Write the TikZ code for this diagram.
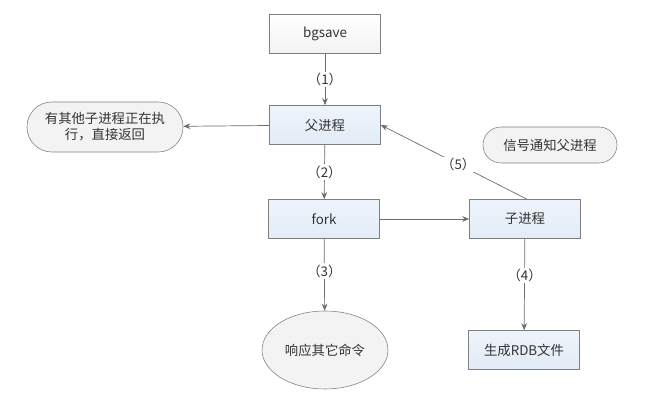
\documentclass[tikz,border=0pt]{standalone}
\usepackage{fontspec}
\setmainfont{Noto Sans CJK SC}
\usepackage{tikz}
\usetikzlibrary{arrows.meta,shapes.geometric}
\definecolor{boxline}{HTML}{7F7F7F}
\definecolor{boxblue}{HTML}{E2ECF7}
\definecolor{boxgray}{HTML}{F3F3F3}
\definecolor{txtgray}{HTML}{333333}
\tikzset{
    every node/.style={text=txtgray, font=\fontsize{9.5}{11.5}\selectfont},
    procbox/.style={draw=boxline, rectangle, minimum width=2.775cm, minimum height=0.975cm, inner sep=0pt},
    roundbox/.style={draw=boxline, rectangle, rounded corners=0.45cm, fill=boxgray, inner sep=0pt},
    flow/.style={draw=boxline!85!black, line width=0.5pt, -{Stealth[length=5pt,width=4pt]}},
    steplabel/.style={fill=white, inner sep=1pt}
}

\begin{document}
\begin{tikzpicture}
    \useasboundingbox (0,0) rectangle (16.125,10.225);

    % Boxes
    \node[procbox, top color=white, bottom color=boxgray] (bgsave) at (8.125,9.375) {bgsave};
    \node[procbox, top color=boxblue!60, bottom color=boxblue] (parent) at (8.125,7.1) {父进程};
    \node[procbox, top color=boxblue!60, bottom color=boxblue] (fork) at (8.1,4.75) {fork};
    \node[procbox, top color=boxblue!60, bottom color=boxblue] (child) at (13.125,4.75) {子进程};
    \node[procbox, top color=boxblue!60, bottom color=boxblue] (rdb) at (13.1,1.475) {生成RDB文件};

    % Ellipse and rounded nodes
    \node[ellipse, draw=boxline, fill=boxgray, minimum width=3.15cm, minimum height=1.95cm, inner sep=0pt] (reply) at (8.125,1.475) {响应其它命令};
    \node[roundbox, minimum width=3.9cm, minimum height=1.25cm, align=center, rounded corners=0.62cm] (busy) at (2.625,7.05) {有其他子进程正在执\\行，直接返回};
    \node[roundbox, minimum width=3.35cm, minimum height=0.9cm] (signal) at (13.75,6.6) {信号通知父进程};

    % Arrows
    \draw[flow] (bgsave) -- node[steplabel] {（1）} (parent);
    \draw[flow] (parent) -- node[steplabel] {（2）} (fork);
    \draw[flow] (fork) -- node[steplabel, pos=0.45] {（3）} (reply);
    \draw[flow] (child) -- node[steplabel, pos=0.4] {（4）} (rdb);
    \draw[flow] (fork) -- (child);
    \draw[flow] (parent) -- (busy);
    \draw[flow] ([xshift=0.05cm]child.north) -- node[steplabel, pos=0.47] {（5）} (parent.east);
\end{tikzpicture}
\end{document}
